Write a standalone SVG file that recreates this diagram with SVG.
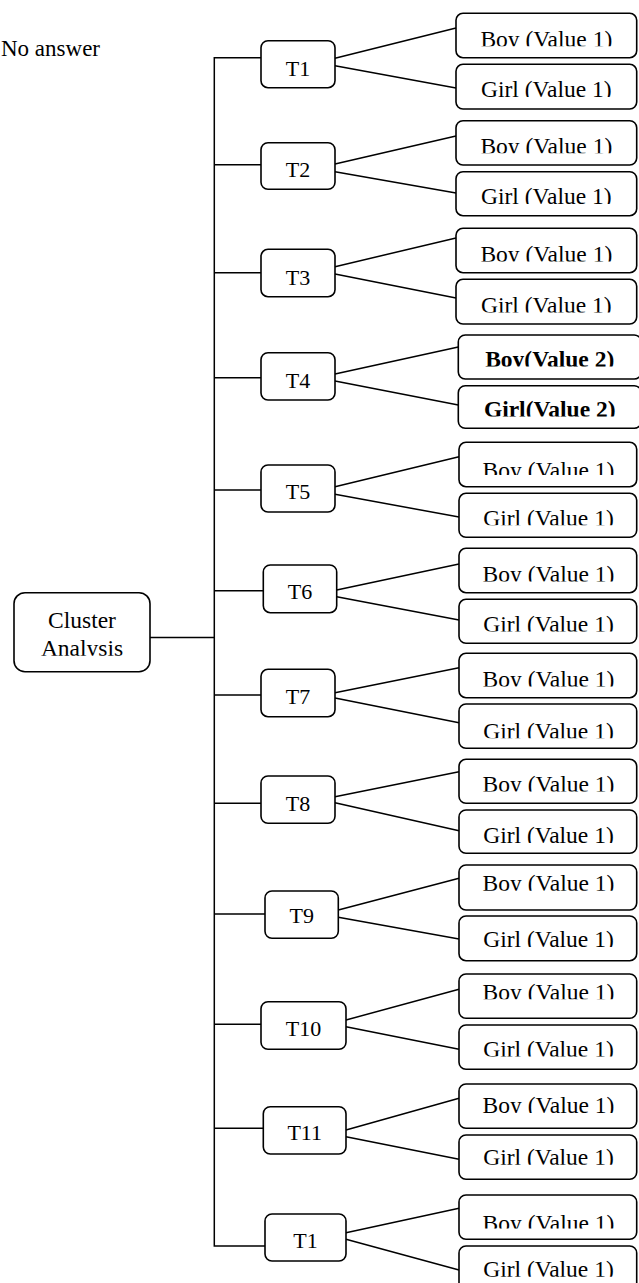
<svg xmlns="http://www.w3.org/2000/svg" width="639" height="1283" viewBox="0 0 639 1283">
<style>
.box{fill:#fff;stroke:#000;stroke-width:1.6}
.ln{fill:none;stroke:#000;stroke-width:1.5}
text{font-family:"Liberation Serif","Times New Roman",serif;fill:#000}
.t{font-size:22px;text-anchor:middle}
.lf{font-size:23.5px;text-anchor:middle}
.b{font-weight:bold}
.cut{clip-path:url(#cut)}
.cut2{clip-path:url(#cut2)}
</style>
<defs>
<clipPath id="cut" clipPathUnits="objectBoundingBox"><rect x="-0.05" y="-0.5" width="1.1" height="1.3"/></clipPath>
<clipPath id="cut2" clipPathUnits="objectBoundingBox"><rect x="-0.05" y="-0.5" width="1.1" height="1.215"/></clipPath>
</defs>
<text x="1" y="55.5" style="font-size:23px">No answer</text>
<g id="connectors">
<path class="ln" d="M261,57.7 H214.3 V1246 H265"/>
<path class="ln" d="M150,637.5 H214.3"/>
<path class="ln" d="M214.3,164.7 H261 M214.3,272.7 H261 M214.3,377.7 H261 M214.3,490 H261 M214.3,590.7 H263.3 M214.3,695 H261 M214.3,803.3 H261 M214.3,914 H265 M214.3,1024.3 H261 M214.3,1128.3 H263.3"/>
<path class="ln" d="M335,58.3 L456,28 M335,65.7 L456,88"/>
<path class="ln" d="M335,164 L456,136 M335,171.7 L456,193"/>
<path class="ln" d="M335,266.7 L456,238 M335,274 L456,298"/>
<path class="ln" d="M335,374 L458.3,347 M335,381 L458.3,405"/>
<path class="ln" d="M335,486.7 L459,456.7 M335,494.3 L459,517"/>
<path class="ln" d="M336.7,590 L459,564 M336.7,596.7 L459,620"/>
<path class="ln" d="M335,692.7 L459,667.7 M335,698 L459,722.7"/>
<path class="ln" d="M335,796.7 L459,771.7 M335,802.7 L459,830.7"/>
<path class="ln" d="M338.3,910 L459,878.3 M338.3,917.3 L459,939"/>
<path class="ln" d="M346,1020 L459,989.3 M346,1026.7 L459,1049.3"/>
<path class="ln" d="M346,1130 L459,1098.3 M346,1136.7 L459,1159.3"/>
<path class="ln" d="M346,1232.7 L459,1208.3 M346,1239.3 L459,1270"/>
</g>
<g id="cluster">
<rect class="box" x="14" y="592.7" width="136" height="79" rx="11"/>
<text class="lf" x="82" y="628.3">Cluster</text>
<text class="lf cut" x="82" y="656">Analysis</text>
</g>
<g id="t1"><rect class="box" x="261" y="40.7" width="74" height="47" rx="7"/><text class="t" x="298" y="75.5">T1</text></g>
<g id="t2"><rect class="box" x="261" y="142.7" width="74" height="46.6" rx="7"/><text class="t" x="298" y="176.7">T2</text></g>
<g id="t3"><rect class="box" x="261" y="249.3" width="74" height="47.4" rx="7"/><text class="t" x="298" y="285">T3</text></g>
<g id="t4"><rect class="box" x="261" y="352.7" width="74" height="47.3" rx="7"/><text class="t" x="298" y="388.3">T4</text></g>
<g id="t5"><rect class="box" x="261" y="465" width="74" height="47" rx="7"/><text class="t" x="298" y="499">T5</text></g>
<g id="t6"><rect class="box" x="263.3" y="565" width="73.4" height="47.7" rx="7"/><text class="t" x="300" y="599">T6</text></g>
<g id="t7"><rect class="box" x="261" y="669.3" width="74" height="47.4" rx="7"/><text class="t" x="298" y="704">T7</text></g>
<g id="t8"><rect class="box" x="261" y="776" width="74" height="47.3" rx="7"/><text class="t" x="298" y="810.7">T8</text></g>
<g id="t9"><rect class="box" x="265" y="891" width="73.3" height="47.3" rx="7"/><text class="t" x="301.7" y="923.3">T9</text></g>
<g id="t10"><rect class="box" x="261" y="1001.7" width="85" height="47.6" rx="7"/><text class="t" x="303.5" y="1035.7">T10</text></g>
<g id="t11"><rect class="box" x="263.3" y="1106.7" width="82.7" height="47.3" rx="7"/><text class="t" x="304.7" y="1140">T11</text></g>
<g id="t12"><rect class="box" x="265" y="1214" width="81" height="47" rx="7"/><text class="t" x="305.5" y="1248.3">T1</text></g>
<g id="boy1"><rect class="box" x="456" y="13.3" width="180.7" height="44.4" rx="7"/><text class="lf cut" x="546.3" y="46.5">Boy (Value 1)</text></g>
<g id="girl1"><rect class="box" x="456" y="64.3" width="180.7" height="44.7" rx="7"/><text class="lf cut" x="546.3" y="97.3">Girl (Value 1)</text></g>
<g id="boy2"><rect class="box" x="456" y="120.7" width="180.7" height="44.3" rx="7"/><text class="lf cut" x="546.3" y="153.5">Boy (Value 1)</text></g>
<g id="girl2"><rect class="box" x="456" y="171.7" width="180.7" height="44" rx="7"/><text class="lf cut" x="546.3" y="204.3">Girl (Value 1)</text></g>
<g id="boy3"><rect class="box" x="456" y="228.3" width="180.7" height="44.4" rx="7"/><text class="lf cut" x="546.3" y="261.7">Boy (Value 1)</text></g>
<g id="girl3"><rect class="box" x="456" y="279.3" width="180.7" height="44.7" rx="7"/><text class="lf cut" x="546.3" y="312.7">Girl (Value 1)</text></g>
<g id="boy4"><rect class="box" x="458.3" y="335" width="183" height="44" rx="7"/><text class="lf b cut" x="549.7" y="366.7">Boy(Value 2)</text></g>
<g id="girl4"><rect class="box" x="458.3" y="385.7" width="183" height="42.6" rx="7"/><text class="lf b cut" x="549.7" y="416.7">Girl(Value 2)</text></g>
<g id="boy5"><rect class="box" x="459" y="442.3" width="177.7" height="44.4" rx="7"/><text class="lf cut2" x="548.5" y="477.5">Boy (Value 1)</text></g>
<g id="girl5"><rect class="box" x="459" y="493.3" width="177.7" height="44" rx="7"/><text class="lf cut" x="548.5" y="525.5">Girl (Value 1)</text></g>
<g id="boy6"><rect class="box" x="459" y="548.3" width="177.7" height="44.4" rx="7"/><text class="lf cut" x="548.5" y="581.7">Boy (Value 1)</text></g>
<g id="girl6"><rect class="box" x="459" y="599.3" width="177.7" height="44" rx="7"/><text class="lf cut" x="548.5" y="631.7">Girl (Value 1)</text></g>
<g id="boy7"><rect class="box" x="459" y="653.3" width="177.7" height="44.4" rx="7"/><text class="lf cut" x="548.5" y="686.7">Boy (Value 1)</text></g>
<g id="girl7"><rect class="box" x="459" y="704" width="177.7" height="44.3" rx="7"/><text class="lf cut" x="548.5" y="738.5">Girl (Value 1)</text></g>
<g id="boy8"><rect class="box" x="459" y="759.3" width="177.7" height="44" rx="7"/><text class="lf cut" x="548.5" y="791.7">Boy (Value 1)</text></g>
<g id="girl8"><rect class="box" x="459" y="810" width="177.7" height="43.3" rx="7"/><text class="lf cut" x="548.5" y="843.3">Girl (Value 1)</text></g>
<g id="boy9"><rect class="box" x="459" y="865" width="177.7" height="45" rx="7"/><text class="lf cut" x="548.5" y="891">Boy (Value 1)</text></g>
<g id="girl9"><rect class="box" x="459" y="916" width="177.7" height="44.7" rx="7"/><text class="lf cut" x="548.5" y="947.3">Girl (Value 1)</text></g>
<g id="boy10"><rect class="box" x="459" y="974" width="177.7" height="44.3" rx="7"/><text class="lf cut" x="548.5" y="999.5">Boy (Value 1)</text></g>
<g id="girl10"><rect class="box" x="459" y="1025" width="177.7" height="44.3" rx="7"/><text class="lf cut" x="548.5" y="1056.7">Girl (Value 1)</text></g>
<g id="boy11"><rect class="box" x="459" y="1084" width="177.7" height="44.3" rx="7"/><text class="lf cut" x="548.5" y="1113.3">Boy (Value 1)</text></g>
<g id="girl11"><rect class="box" x="459" y="1135" width="177.7" height="44.3" rx="7"/><text class="lf cut" x="548.5" y="1165">Girl (Value 1)</text></g>
<g id="boy12"><rect class="box" x="459" y="1195" width="177.7" height="44.3" rx="7"/><text class="lf cut2" x="548.5" y="1231">Boy (Value 1)</text></g>
<g id="girl12"><rect class="box" x="459" y="1246" width="177.7" height="44" rx="7"/><text class="lf cut" x="548.5" y="1277">Girl (Value 1)</text></g>
</svg>
